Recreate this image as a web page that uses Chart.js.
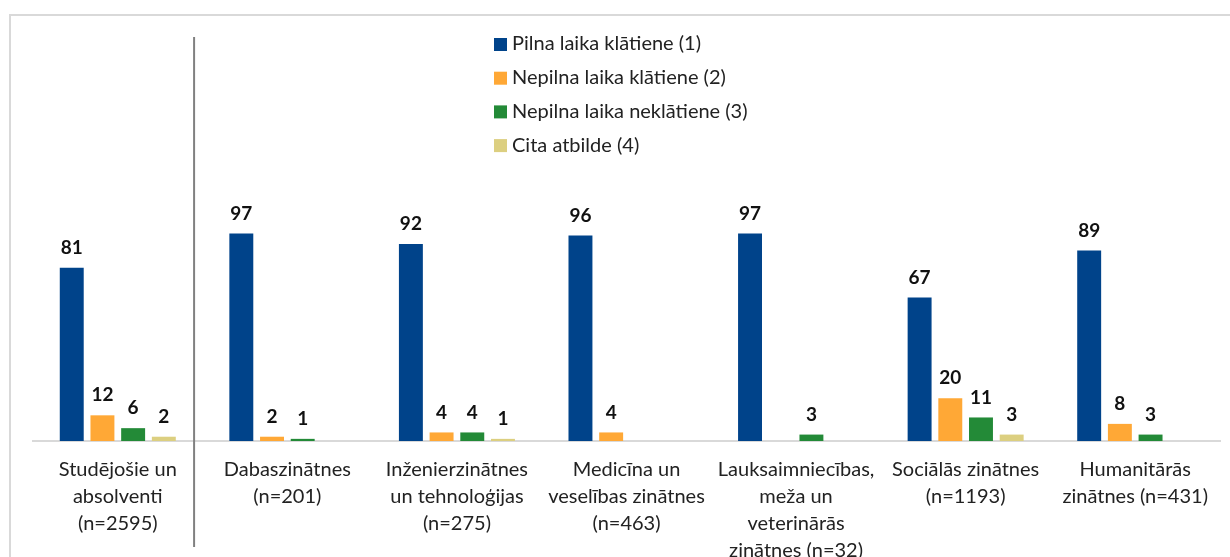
<!DOCTYPE html>
<html>
<head>
<meta charset="utf-8">
<script src="https://cdn.jsdelivr.net/npm/chart.js"></script>
<style>
  html, body { margin: 0; padding: 0; background: #fff; overflow: hidden; }
  #wrap { position: relative; width: 1230px; height: 557px; overflow: hidden; }
  #frame { position: absolute; left: 9px; top: 14px; width: 1300px; height: 700px; border: 2px solid #d9d9d9; box-sizing: border-box; }
  #box { position: absolute; left: 0; top: 0; width: 1230px; height: 580px; }
</style>
</head>
<body>
<div id="wrap">
  <div id="frame"></div>
  <div id="box"><canvas id="myBarChart"></canvas></div>
</div>
<script>
// ############################################ Data #############################################
const categories = [
    ['Studējošie un', 'absolventi', '(n=2595)'],
    ['Dabaszinātnes', '(n=201)'],
    ['Inženierzinātnes', 'un tehnoloģijas', '(n=275)'],
    ['Medicīna un', 'veselības zinātnes', '(n=463)'],
    ['Lauksaimniecības,', 'meža un', 'veterinārās', 'zinātnes (n=32)'],
    ['Sociālās zinātnes', '(n=1193)'],
    ['Humanitārās', 'zinātnes (n=431)']
];
const seriesNames = [
    'Pilna laika klātiene (1)',
    'Nepilna laika klātiene (2)',
    'Nepilna laika neklātiene (3)',
    'Cita atbilde (4)'
];
// null = no answer shown in the original
const fullTimeDay   = [81, 97, 92, 96, 97, 67, 89];
const partTimeDay   = [12, 2, 4, 4, null, 20, 8];
const partTimeExtra = [6, 1, 4, null, 3, 11, 3];
const otherAnswer   = [2, null, 1, null, null, 3, null];
const colors = ['#00438a', '#ffa836', '#238a37', '#dccf80'];

const FONT = 'Lato, "Liberation Sans", sans-serif';

// ############################################ Plugins #############################################
const valueLabels = {
    id: 'valueLabels',
    afterDatasetsDraw(chart) {
        const ctx = chart.ctx;
        ctx.save();
        ctx.font = 'bold 19px ' + FONT;
        ctx.fillStyle = '#111';
        ctx.textAlign = 'center';
        ctx.textBaseline = 'middle';
        chart.data.datasets.forEach((ds, i) => {
            chart.getDatasetMeta(i).data.forEach((bar, j) => {
                const v = ds.data[j];
                if (v === null || v === undefined) return;
                ctx.fillText(String(v), bar.x, bar.y - 20);
            });
        });
        ctx.restore();
    }
};

const separator = {
    id: 'separator',
    afterDraw(chart) {
        const x0 = chart.scales.x.getPixelForValue(0);
        const x1 = chart.scales.x.getPixelForValue(1);
        const x = x0 + (x1 - x0) * 0.45;
        const ctx = chart.ctx;
        ctx.save();
        ctx.strokeStyle = '#808080';
        ctx.lineWidth = 2;
        ctx.beginPath();
        ctx.moveTo(x, 37);
        ctx.lineTo(x, 547);
        ctx.stroke();
        ctx.restore();
    }
};

const sideLegend = {
    id: 'sideLegend',
    afterDraw(chart) {
        const ctx = chart.ctx;
        ctx.save();
        ctx.font = '20px ' + FONT;
        ctx.textBaseline = 'middle';
        ctx.textAlign = 'left';
        chart.data.datasets.forEach((ds, i) => {
            const y = 44 + i * 33.7;
            ctx.fillStyle = ds.backgroundColor;
            ctx.fillRect(494, y - 6, 13, 13);
            ctx.fillStyle = '#222';
            ctx.fillText(ds.label, 512, y);
        });
        ctx.restore();
    }
};

// ############################################ Bar Chart #############################################
function createBarChart() {
    const ctx = document.getElementById('myBarChart').getContext('2d');
    const seriesData = [fullTimeDay, partTimeDay, partTimeExtra, otherAnswer];

    new Chart(ctx, {
        type: 'bar',
        data: {
            labels: categories,
            datasets: seriesData.map((d, i) => ({
                label: seriesNames[i],
                data: d,
                backgroundColor: colors[i],
                borderWidth: 0,
                categoryPercentage: 0.724,
                barPercentage: 0.78
            }))
        },
        options: {
            responsive: true,
            maintainAspectRatio: false,
            animation: false,
            layout: {
                padding: { top: 227, left: 33, right: 10, bottom: 9 }
            },
            plugins: {
                legend: { display: false },
                tooltip: { enabled: false }
            },
            scales: {
                x: {
                    grid: { display: false },
                    border: { color: '#d9d9d9', width: 2 },
                    ticks: {
                        color: '#222',
                        padding: 7,
                        maxRotation: 0,
                        autoSkip: false,
                        font: { family: FONT, size: 20, lineHeight: '27px' }
                    }
                },
                y: {
                    display: false,
                    min: 0,
                    max: 100
                }
            }
        },
        plugins: [valueLabels, separator, sideLegend]
    });
}

createBarChart();
</script>
</body>
</html>
